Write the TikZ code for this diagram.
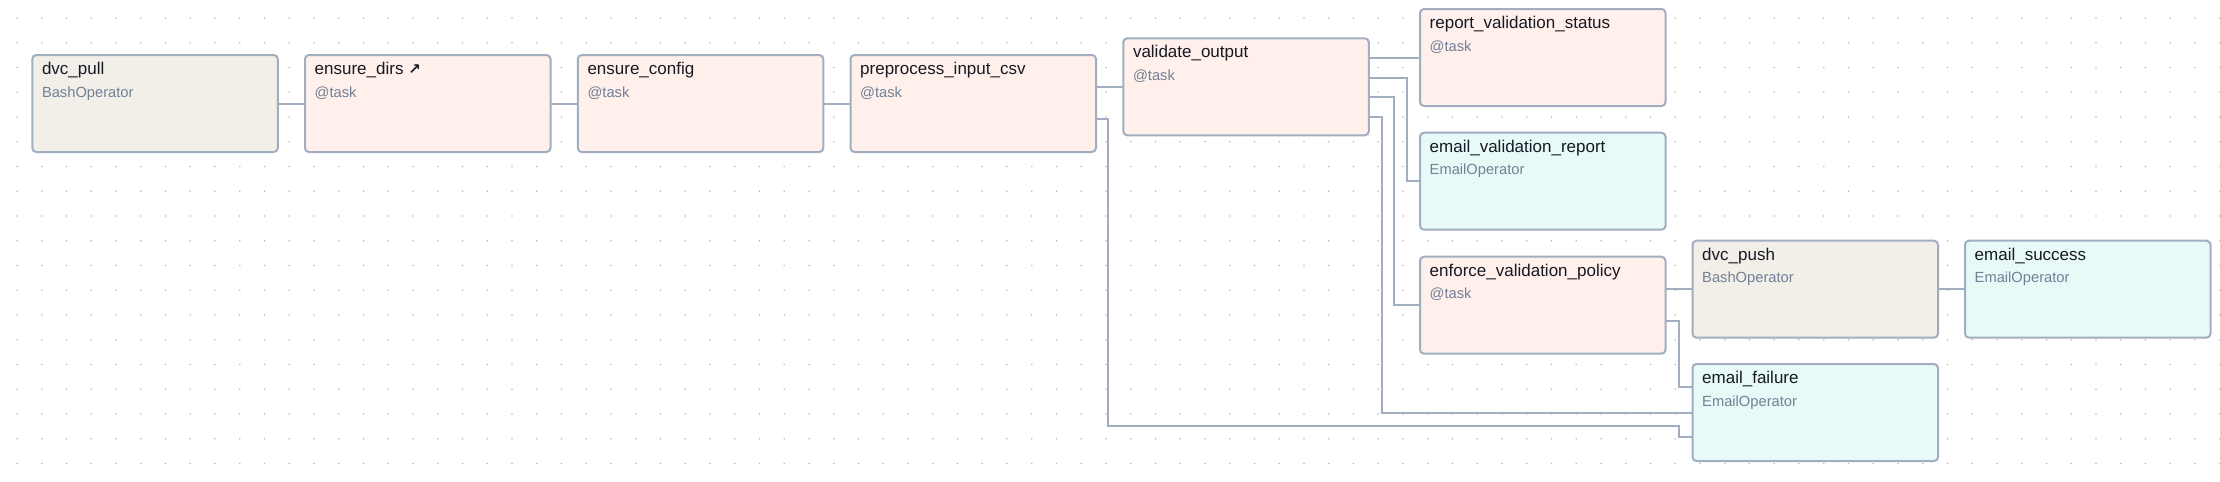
\documentclass[tikz,border=0pt]{standalone}
\usepackage{fontspec}
\setmainfont{Liberation Sans}
\newfontfamily\symfont{DejaVu Sans}
\usetikzlibrary{backgrounds}
\pgfdeclarelayer{paper}
\pgfsetlayers{paper,background,main}
\definecolor{bordcol}{HTML}{A0AEC0}
\definecolor{bashfill}{HTML}{F2EFE9}
\definecolor{taskfill}{HTML}{FFF0EC}
\definecolor{emailfill}{HTML}{E8FAF8}
\definecolor{ttlcol}{HTML}{171923}
\definecolor{subcol}{HTML}{718096}
\definecolor{dotcol}{HTML}{BBBBBB}
\tikzset{
  tbox/.style={draw=bordcol, line width=2pt, rounded corners=4pt,
    minimum width=245.5pt, minimum height=97pt, inner sep=0pt, outer sep=0pt,
    anchor=north west},
  bashbox/.style={tbox, fill=bashfill},
  taskbox/.style={tbox, fill=taskfill},
  emailbox/.style={tbox, fill=emailfill},
  ttl/.style={anchor=base west, inner sep=0pt, font=\fontsize{17}{20}\selectfont, text=ttlcol},
  subt/.style={anchor=base west, inner sep=0pt, font=\fontsize{14.7}{17}\selectfont, text=subcol},
  link/.style={draw=bordcol, line width=2pt},
}
\newcommand\tasknode[6]{%
  \node[#1] (#2) at (#3,#4) {};
  \node[ttl] (#2-t) at ([xshift=9.5pt,yshift=-19.5pt]#2.north west) {#5};
  \node[subt] (#2-s) at ([xshift=9.5pt,yshift=-42pt]#2.north west) {#6};
}
\begin{document}
\begin{tikzpicture}[x=1pt,y=-1pt]
\begin{pgfonlayer}{paper}
\fill[white] (0,0) rectangle (2220,482);
\end{pgfonlayer}
\useasboundingbox (0,0) rectangle (2220,482);
\begin{pgfonlayer}{background}
\foreach \i in {0,...,89} {\foreach \j in {0,...,18} {\fill[dotcol] (17+24.75*\i, 18+24.75*\j) circle (0.9pt);}}
\end{pgfonlayer}

\tasknode{bashbox}{pull}{32.3}{55}{dvc\_pull}{BashOperator}
\tasknode{taskbox}{dirs}{305}{55}{ensure\_dirs {\symfont\bfseries\fontsize{15}{17}\selectfont ↗}}{@task}
\tasknode{taskbox}{cfg}{577.8}{55}{ensure\_config}{@task}
\tasknode{taskbox}{pre}{850.5}{55}{preprocess\_input\_csv}{@task}
\tasknode{taskbox}{val}{1123.3}{38.3}{validate\_output}{@task}
\tasknode{taskbox}{rep}{1420}{9}{report\_validation\_status}{@task}
\tasknode{emailbox}{evr}{1420}{132.7}{email\_validation\_report}{EmailOperator}
\tasknode{taskbox}{enf}{1420}{256.7}{enforce\_validation\_policy}{@task}
\tasknode{bashbox}{push}{1692.5}{240.7}{dvc\_push}{BashOperator}
\tasknode{emailbox}{succ}{1965}{240.7}{email\_success}{EmailOperator}
\tasknode{emailbox}{ef}{1692.5}{364}{email\_failure}{EmailOperator}

\begin{pgfonlayer}{background}
\draw[link] (pull.east) -- (dirs.west);
\draw[link] (dirs.east) -- (cfg.west);
\draw[link] (cfg.east) -- (pre.west);
\draw[link] (pre.east |- val.west) -- (val.west);
\draw[link] ([yshift=-15.8pt]pre.east) -| (1108.3,425.7) -| ([xshift=-13.3pt,yshift=-24.5pt]ef.west) -- ([yshift=-24.5pt]ef.west);
\draw[link] (val.east |- rep.west) -- (rep.west);
\draw[link] ([yshift=9.1pt]val.east) -| ([xshift=-13.3pt]evr.west) -- (evr.west);
\draw[link] ([yshift=-10.5pt]val.east) -| ([xshift=-26pt]enf.west) -- (enf.west);
\draw[link] ([yshift=-29.9pt]val.east) -| ([xshift=-310.8pt]ef.west) -- (ef.west);
\draw[link] (enf.east |- push.west) -- (push.west);
\draw[link] ([yshift=-16pt]enf.east) -| ([xshift=-13.3pt,yshift=25.5pt]ef.west) -- ([yshift=25.5pt]ef.west);
\draw[link] (push.east) -- (succ.west);
\end{pgfonlayer}
\end{tikzpicture}
\end{document}
